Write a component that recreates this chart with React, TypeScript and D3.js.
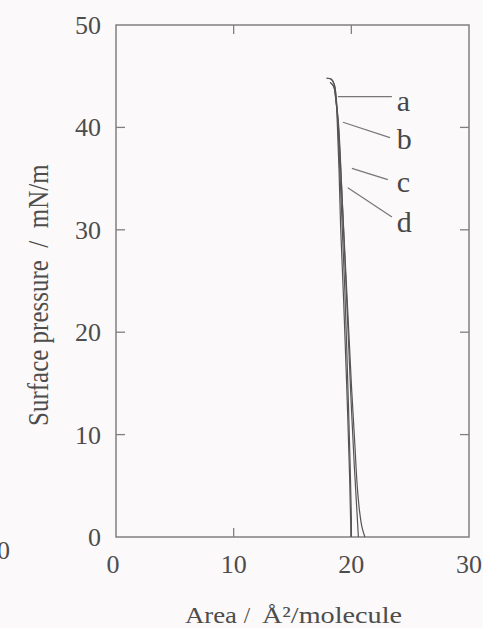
import React from 'react';
import * as d3 from 'd3';

// Isotherm axes
const X_DOMAIN = [0, 30];
const Y_DOMAIN = [0, 50];
const X_TICKS = [0, 10, 20, 30];
const Y_TICKS = [0, 10, 20, 30, 40, 50];

// Surface pressure – area isotherms (Å²/molecule, mN/m)
const AREA_A = [17.9, 18.3, 18.55, 18.7, 18.85, 19.05, 19.35, 19.7, 20.0, 20.3, 20.5, 20.7, 20.9, 21.15];
const PRESS_A = [44.8, 44.7, 44.2, 43.0, 41.0, 37.0, 30.0, 22.0, 15.0, 9.0, 5.0, 2.5, 1.0, 0.0];

const AREA_B = [18.2, 18.5, 18.7, 18.9, 19.05, 19.3, 19.65, 19.95, 20.25, 20.45, 20.6];
const PRESS_B = [44.4, 44.0, 42.5, 40.5, 37.5, 31.0, 22.0, 14.0, 7.0, 3.0, 0.0];

const AREA_C = [18.2, 18.5, 18.7, 18.85, 18.98, 19.2, 19.45, 19.7, 19.9, 20.0, 20.0];
const PRESS_C = [44.4, 44.0, 42.5, 40.5, 37.0, 31.0, 24.0, 15.0, 7.0, 2.0, 0.0];

const AREA_D = [17.9, 18.3, 18.55, 18.7, 18.82, 18.95, 19.1, 19.35, 19.6, 19.85, 19.95, 19.97];
const PRESS_D = [44.8, 44.7, 44.2, 43.0, 40.0, 36.0, 30.0, 23.0, 15.0, 6.0, 1.0, 0.0];

// Curve labels with leader lines (data coordinates)
const LABELS = ['a', 'b', 'c', 'd'];
const LABEL_AREA = [23.85, 23.85, 23.85, 23.85];
const LABEL_PRESS = [42.5, 38.8, 34.6, 30.7];
const LEADER_AREA_FROM = [18.86, 19.29, 20.05, 19.7];
const LEADER_PRESS_FROM = [43.0, 40.5, 36.0, 34.1];
const LEADER_AREA_TO = [23.45, 23.28, 23.1, 23.45];
const LEADER_PRESS_TO = [43.0, 39.0, 34.9, 31.25];

const W = 483;
const H = 628;
const M = { left: 116, right: 469, top: 25, bottom: 537 };

const INK = '#4d4d4d';
const AXIS = '#808080';
const FONT = '"Liberation Serif", "DejaVu Serif", serif';

export default function App() {
  const x = d3.scaleLinear().domain(X_DOMAIN).range([M.left, M.right]);
  const y = d3.scaleLinear().domain(Y_DOMAIN).range([M.bottom, M.top]);

  const line = d3
    .line<[number, number]>()
    .x((d) => x(d[0]))
    .y((d) => y(d[1]))
    .curve(d3.curveCatmullRom.alpha(0.5));

  const series = [
    d3.zip(AREA_A, PRESS_A),
    d3.zip(AREA_B, PRESS_B),
    d3.zip(AREA_C, PRESS_C),
    d3.zip(AREA_D, PRESS_D),
  ] as [number, number][][];

  const tickLen = 9;
  const innerX = X_TICKS.filter((t) => t > X_DOMAIN[0] && t < X_DOMAIN[1]);
  const innerY = Y_TICKS.filter((t) => t > Y_DOMAIN[0] && t < Y_DOMAIN[1]);

  return (
    <svg
      width={W}
      height={H}
      style={{ position: 'absolute', left: 0, top: 0, background: '#fcf9fa' }}
      fontFamily={FONT}
    >
      <rect width={W} height={H} fill="#fcf9fa" />

      {/* frame */}
      <rect
        x={M.left}
        y={M.top}
        width={M.right - M.left}
        height={M.bottom - M.top}
        fill="none"
        stroke={AXIS}
        strokeWidth={1.5}
      />

      {/* inward ticks on all four sides */}
      {innerX.map((t) => (
        <g key={'xt' + t} stroke={AXIS} strokeWidth={1.3}>
          <line x1={x(t)} x2={x(t)} y1={M.bottom} y2={M.bottom - tickLen} />
          <line x1={x(t)} x2={x(t)} y1={M.top} y2={M.top + tickLen} />
        </g>
      ))}
      {innerY.map((t) => (
        <g key={'yt' + t} stroke={AXIS} strokeWidth={1.3}>
          <line x1={M.left} x2={M.left + tickLen} y1={y(t)} y2={y(t)} />
          <line x1={M.right} x2={M.right - tickLen} y1={y(t)} y2={y(t)} />
        </g>
      ))}

      {/* tick labels */}
      {X_TICKS.map((t) => (
        <text
          key={'xl' + t}
          x={x(t) - (t === 0 ? 3 : 0)}
          y={573}
          textAnchor="middle"
          fontSize={26}
          fill={INK}
        >
          {t}
        </text>
      ))}
      {Y_TICKS.map((t) => (
        <text
          key={'yl' + t}
          x={101}
          y={y(t) + 9}
          textAnchor="end"
          fontSize={26}
          fill={INK}
        >
          {t}
        </text>
      ))}

      {/* axis titles */}
      <g fontSize={23} fill={INK}>
        <text x={185} y={623} textLength={52} lengthAdjust="spacingAndGlyphs">
          Area
        </text>
        <text x={247} y={623} textAnchor="middle">
          /
        </text>
        <text x={262} y={623} textLength={140} lengthAdjust="spacingAndGlyphs">
          Å²/molecule
        </text>
      </g>
      <text
        transform="translate(48,426) scale(1.15,1) rotate(-90)"
        fontSize={25}
        fill={INK}
        xmlSpace="preserve"
      >
        {'Surface pressure  /  mN/m'}
      </text>

      {/* isotherms */}
      {series.map((s, i) => (
        <path
          key={'s' + i}
          d={line(s) ?? ''}
          fill="none"
          stroke="#555"
          strokeWidth={1.2}
        />
      ))}

      {/* leaders and curve labels */}
      {LABELS.map((lab, i) => (
        <g key={'lab' + lab}>
          <line
            x1={x(LEADER_AREA_FROM[i])}
            y1={y(LEADER_PRESS_FROM[i])}
            x2={x(LEADER_AREA_TO[i])}
            y2={y(LEADER_PRESS_TO[i])}
            stroke="#777"
            strokeWidth={1.2}
          />
          <text
            x={x(LABEL_AREA[i])}
            y={y(LABEL_PRESS[i]) + 9}
            fontSize={30}
            fill="#474747"
          >
            {lab}
          </text>
        </g>
      ))}

      {/* edge of the neighbouring panel's axis label */}
      <text x={10} y={559} textAnchor="end" fontSize={26} fill={INK}>
        30
      </text>
    </svg>
  );
}
